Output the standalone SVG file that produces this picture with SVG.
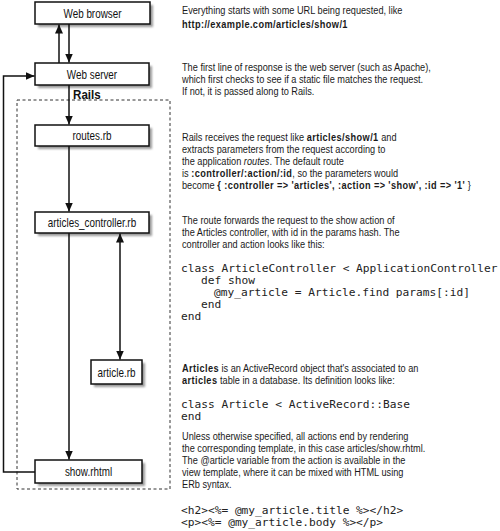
<svg xmlns="http://www.w3.org/2000/svg" width="500" height="531" viewBox="0 0 500 531">
<style>
.box{fill:#fff;stroke:#111;stroke-width:1.5}
.shadow{fill:#9a9a9a;filter:url(#blur)}
.lbl{font-family:"Liberation Sans",Arial,sans-serif;font-size:13px;fill:#111;text-anchor:middle}
.conn{fill:none;stroke:#111;stroke-width:1.5}
.prose{font-family:"Liberation Sans",Arial,sans-serif;font-size:11.5px;fill:#1a1a1a}
.b{font-weight:bold;letter-spacing:0.5px}
.i{font-style:italic}
.code{font-family:"DejaVu Sans Mono","Liberation Mono",monospace;font-size:11.2px;fill:#222;white-space:pre}
</style>
<defs>
<filter id="blur" x="-10%" y="-10%" width="130%" height="140%"><feGaussianBlur stdDeviation="0.8"/></filter>
<marker id="ah" markerUnits="userSpaceOnUse" markerWidth="9" markerHeight="8" refX="9" refY="4" orient="auto-start-reverse" viewBox="0 0 9 8"><path d="M0,0 L9,4 L0,8 z" fill="#111"/></marker>
</defs>
<rect width="500" height="531" fill="#fff"/>

<rect x="17" y="100" width="153" height="389" fill="none" stroke="#333" stroke-width="1" stroke-dasharray="3,2.5"/>

<g id="web-browser">
<rect class="shadow" x="38" y="5" width="115" height="22"/>
<rect class="box" x="35" y="2" width="115" height="22"/>
<text class="lbl" transform="translate(92.5 17.5) scale(0.76 1)">Web browser</text>
</g>
<g id="web-server">
<rect class="shadow" x="38" y="66" width="114" height="22"/>
<rect class="box" x="35" y="63" width="114" height="22"/>
<text class="lbl" transform="translate(92 78.5) scale(0.76 1)">Web server</text>
</g>
<g id="rails-label">
<text font-family="Liberation Sans,Arial,sans-serif" font-size="13.5" font-weight="bold" fill="#111" transform="translate(73 99) scale(0.86 1)">Rails</text>
</g>
<g id="routes">
<rect class="shadow" x="38" y="128" width="114" height="21"/>
<rect class="box" x="35" y="125" width="114" height="21"/>
<text class="lbl" transform="translate(92 140) scale(0.76 1)">routes.rb</text>
</g>
<g id="controller">
<rect class="shadow" x="38" y="215" width="114" height="21"/>
<rect class="box" x="35" y="212" width="114" height="21"/>
<text class="lbl" transform="translate(92 227) scale(0.76 1)">articles_controller.rb</text>
</g>
<g id="article">
<rect class="shadow" x="94" y="363" width="51" height="24"/>
<rect class="box" x="91" y="360" width="51" height="24"/>
<text class="lbl" transform="translate(116.5 376.5) scale(0.76 1)">article.rb</text>
</g>
<g id="show">
<rect class="shadow" x="38" y="463" width="107" height="23"/>
<rect class="box" x="35" y="460" width="107" height="23"/>
<text class="lbl" transform="translate(88.5 476) scale(0.76 1)">show.rhtml</text>
</g>

<g id="connectors">
<line class="conn" x1="59" y1="63" x2="59" y2="24.5" marker-end="url(#ah)"/>
<line class="conn" x1="69" y1="24" x2="69" y2="62.5" marker-end="url(#ah)"/>
<line class="conn" x1="69" y1="85" x2="69" y2="124.5" marker-end="url(#ah)"/>
<line class="conn" x1="69" y1="146" x2="69" y2="211.5" marker-end="url(#ah)"/>
<line class="conn" x1="69" y1="233" x2="69" y2="459.5" marker-end="url(#ah)"/>
<line class="conn" x1="120" y1="233.5" x2="120" y2="359.5" marker-start="url(#ah)" marker-end="url(#ah)"/>
<path class="conn" d="M35,472 H3.5 V76 H34.5" marker-end="url(#ah)"/>
</g>

<g id="notes" transform="translate(182 0) scale(0.8 1)">
<text class="prose" x="0" y="14">Everything starts with some URL being requested, like</text>
<text class="prose b" x="0" y="28">http://example.com/articles/show/1</text>

<text class="prose" x="0" y="71.5">The first line of response is the web server (such as Apache),</text>
<text class="prose" x="0" y="83.5">which first checks to see if a static file matches the request.</text>
<text class="prose" x="0" y="95.5">If not, it is passed along to Rails.</text>

<text class="prose" x="0" y="141.5">Rails receives the request like <tspan class="b">articles/show/1</tspan> and</text>
<text class="prose" x="0" y="153.5">extracts parameters from the request according to</text>
<text class="prose" x="0" y="165.5">the application <tspan class="i">routes</tspan>. The default route</text>
<text class="prose" x="0" y="177.5">is <tspan class="b">:controller/:action/:id</tspan>, so the parameters would</text>
<text class="prose" x="0" y="189.5">become <tspan class="b">{ :controller =&gt; 'articles', :action =&gt; 'show', :id =&gt; '1'</tspan> }</text>

<text class="prose" x="0" y="224.5">The route forwards the request to the show action of</text>
<text class="prose" x="0" y="236.5">the Articles controller, with id in the params hash. The</text>
<text class="prose" x="0" y="248.5">controller and action looks like this:</text>

<text class="prose" x="0" y="372.5"><tspan class="b">Articles</tspan> is an ActiveRecord object that's associated to an</text>
<text class="prose" x="0" y="384.5"><tspan class="b">articles</tspan> table in a database. Its definition looks like:</text>

<text class="prose" x="0" y="440.5">Unless otherwise specified, all actions end by rendering</text>
<text class="prose" x="0" y="452.5">the corresponding template, in this case articles/show.rhtml.</text>
<text class="prose" x="0" y="464.5">The @article variable from the action is available in the</text>
<text class="prose" x="0" y="476.5">view template, where it can be mixed with HTML using</text>
<text class="prose" x="0" y="488.5">ERb syntax.</text>
</g>

<g id="code">
<text class="code" x="181" y="272">class ArticleController &lt; ApplicationController</text>
<text class="code" x="201" y="284">def show</text>
<text class="code" x="214" y="296">@my_article = Article.find params[:id]</text>
<text class="code" x="201" y="308">end</text>
<text class="code" x="181" y="320">end</text>

<text class="code" x="181" y="408">class Article &lt; ActiveRecord::Base</text>
<text class="code" x="181" y="420">end</text>

<text class="code" x="181" y="514">&lt;h2&gt;&lt;%= @my_article.title %&gt;&lt;/h2&gt;</text>
<text class="code" x="181" y="526">&lt;p&gt;&lt;%= @my_article.body %&gt;&lt;/p&gt;</text>
</g>
</svg>
